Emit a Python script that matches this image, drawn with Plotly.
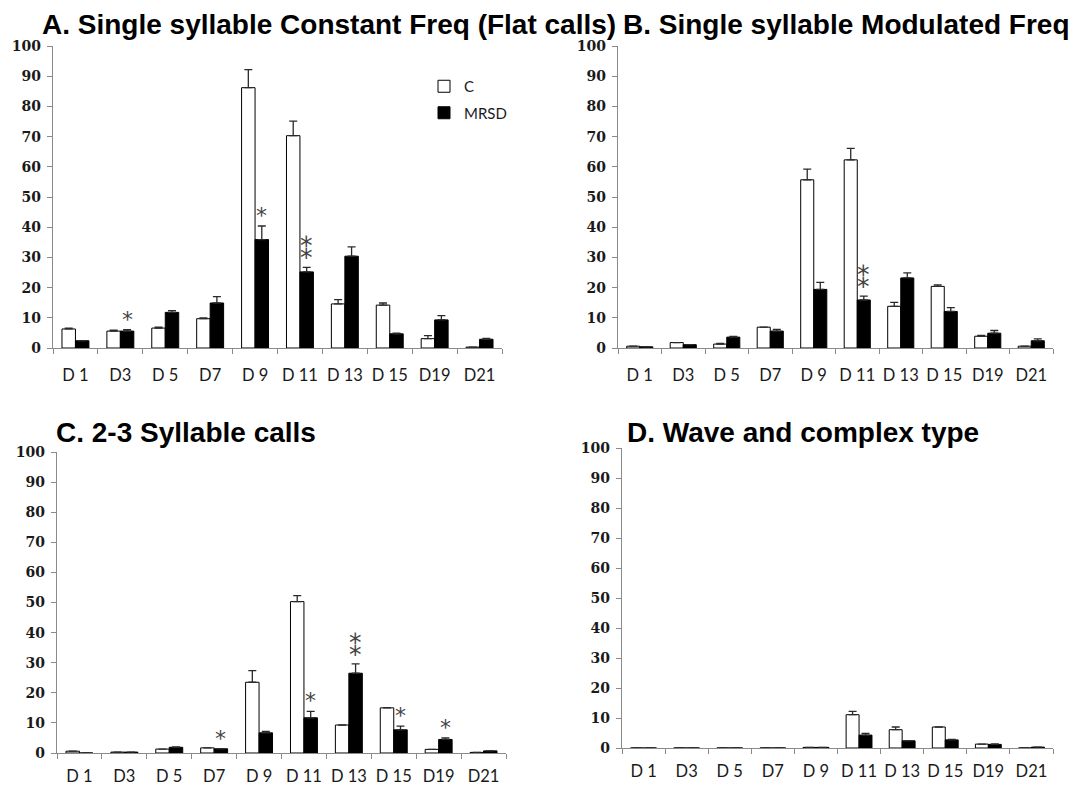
import numpy as np
import plotly.graph_objects as go

# Postnatal days on the x axis
days = ["D 1", "D3", "D 5", "D7", "D 9", "D 11", "D 13", "D 15", "D19", "D21"]

# A. Single syllable constant frequency (flat) calls
a_ctrl = [6.3, 5.6, 6.6, 9.7, 86.2, 70.3, 14.6, 14.2, 3.1, 0.3]
a_ctrl_err = [0.3, 0.3, 0.3, 0.3, 6.0, 4.8, 1.4, 0.7, 1.0, 0.0]
a_mrsd = [2.4, 5.6, 11.8, 14.9, 35.9, 25.2, 30.4, 4.7, 9.3, 2.9]
a_mrsd_err = [0.0, 0.5, 0.6, 2.1, 4.5, 1.5, 3.1, 0.2, 1.4, 0.3]
a_sig = [0, 1, 0, 0, 1, 2, 0, 0, 0, 0]

# B. Single syllable modulated frequency calls
b_ctrl = [0.6, 1.8, 1.3, 6.9, 55.7, 62.3, 13.8, 20.4, 3.9, 0.6]
b_ctrl_err = [0.0, 0.0, 0.2, 0.0, 3.5, 3.8, 1.3, 0.5, 0.3, 0.0]
b_mrsd = [0.4, 1.1, 3.6, 5.6, 19.4, 15.9, 23.2, 12.1, 4.9, 2.4]
b_mrsd_err = [0.0, 0.0, 0.2, 0.6, 2.3, 1.3, 1.7, 1.3, 0.9, 0.6]
b_sig = [0, 0, 0, 0, 0, 2, 0, 0, 0, 0]

# C. 2-3 syllable calls
c_ctrl = [0.6, 0.3, 1.3, 1.7, 23.5, 50.3, 9.3, 15.0, 1.2, 0.2]
c_ctrl_err = [0.0, 0.0, 0.0, 0.0, 3.9, 2.0, 0.0, 0.1, 0.0, 0.0]
c_mrsd = [0.0, 0.3, 1.9, 1.4, 6.7, 11.7, 26.5, 7.7, 4.5, 0.7]
c_mrsd_err = [0.0, 0.0, 0.1, 0.0, 0.5, 2.1, 3.1, 1.2, 0.5, 0.0]
c_sig = [0, 0, 0, 1, 0, 1, 2, 1, 1, 0]

# D. Wave and complex type calls
d_ctrl = [0.0, 0.0, 0.0, 0.0, 0.2, 11.1, 6.1, 7.0, 1.3, 0.0]
d_ctrl_err = [0.0, 0.0, 0.0, 0.0, 0.0, 1.1, 0.9, 0.0, 0.0, 0.0]
d_mrsd = [0.0, 0.0, 0.0, 0.0, 0.2, 4.3, 2.4, 2.7, 1.2, 0.3]
d_mrsd_err = [0.0, 0.0, 0.0, 0.0, 0.0, 0.6, 0.0, 0.2, 0.2, 0.0]
d_sig = [0, 0, 0, 0, 0, 0, 0, 0, 0, 0]

titles = [
    "A. Single syllable Constant Freq (Flat calls)",
    "B. Single syllable Modulated Freq",
    "C. 2-3 Syllable calls",
    "D. Wave and complex type",
]

W, H = 1073, 789
panels = [
    # (ctrl, ctrl_err, mrsd, mrsd_err, sig, x0, x1, ytop, ybottom, title_x, title_y, label gap)
    (a_ctrl, a_ctrl_err, a_mrsd, a_mrsd_err, a_sig, 53, 502, 46, 348, 40, 24, 12),
    (b_ctrl, b_ctrl_err, b_mrsd, b_mrsd_err, b_sig, 618, 1053, 46, 348, 621, 24, 12),
    (c_ctrl, c_ctrl_err, c_mrsd, c_mrsd_err, c_sig, 57, 506, 452, 753, 54, 432, 8),
    (d_ctrl, d_ctrl_err, d_mrsd, d_mrsd_err, d_sig, 622, 1053, 448, 748, 625, 432, 8),
]

BARGAP = 0.4
AXIS_GREY = "#8a8a8a"
TEXT = "#1a1a1a"
# one asterisk for a single mark, two stacked asterisks for a double mark
STAR_TEXT = {1: "*", 2: "\u2051"}


def err_array(vals, errs):
    # no error bar on empty bars
    return np.array([e if v > 0 else np.nan for v, e in zip(vals, errs)], dtype=float)


fig = go.Figure()
annotations = []

for k, (ctrl, ctrl_err, mrsd, mrsd_err, sig, x0, x1, yt, yb, tx, ty, gap) in enumerate(panels):
    sfx = "" if k == 0 else str(k + 1)
    xa, ya = "x" + sfx, "y" + sfx

    for name, vals, errs, fill in (("C", ctrl, ctrl_err, "white"),
                                   ("MRSD", mrsd, mrsd_err, "black")):
        fig.add_trace(go.Bar(
            x=days, y=vals, name=name, xaxis=xa, yaxis=ya,
            legendgroup=name, showlegend=(k == 0),
            marker=dict(color=fill, line=dict(color="black", width=1)),
            error_y=dict(type="data", array=err_array(vals, errs),
                         arrayminus=np.zeros(len(vals)), symmetric=False,
                         color="#2a2a2a", thickness=1.3, width=4),
        ))

    fig.layout["xaxis" + sfx] = dict(
        domain=[x0 / W, x1 / W], anchor=ya, type="category",
        showline=True, linecolor=AXIS_GREY, linewidth=1.3,
        ticks="outside", tickson="boundaries", ticklen=5, tickcolor=AXIS_GREY,
        tickwidth=1, ticklabelstandoff=gap, tickangle=0,
        tickfont=dict(family="Lato", size=16.5, color=TEXT),
        showgrid=False, zeroline=False,
    )
    fig.layout["yaxis" + sfx] = dict(
        domain=[1 - yb / H, 1 - yt / H], anchor=xa, range=[0, 100], dtick=10,
        showline=True, linecolor=AXIS_GREY, linewidth=1.3,
        ticks="outside", ticklen=5, tickcolor=AXIS_GREY, tickwidth=1,
        ticklabelstandoff=3,
        tickfont=dict(family="DejaVu Serif", size=14, color=TEXT, weight="bold"),
        showgrid=False, zeroline=False,
    )

    # panel title
    annotations.append(dict(
        text="<b>%s</b>" % titles[k], xref="paper", yref="paper",
        x=tx / W, y=1 - ty / H, xanchor="left", yanchor="middle", showarrow=False,
        font=dict(family="Liberation Sans", size=28, color="black"),
    ))

    # significance asterisks above the MRSD bars
    off = (1 - BARGAP) / 4
    for i, n in enumerate(sig):
        if n == 0:
            continue
        top = mrsd[i] + mrsd_err[i]
        double = n == 2
        annotations.append(dict(
            text=STAR_TEXT[n], xref=xa, yref=ya, x=i + off, y=top,
            xanchor="center", yanchor="bottom", showarrow=False,
            yshift=0 if double else -4,
            font=dict(family="DejaVu Sans", size=25 if double else 22,
                      color="#444444"),
        ))

fig.update_layout(
    width=W, height=H, template="none",
    margin=dict(l=0, r=0, t=0, b=0),
    paper_bgcolor="white", plot_bgcolor="white",
    barmode="group", bargap=BARGAP, bargroupgap=0,
    showlegend=True,
    legend=dict(x=424 / W, y=1 - 70 / H, xanchor="left", yanchor="top",
                bgcolor="rgba(0,0,0,0)", tracegroupgap=4, traceorder="grouped",
                font=dict(family="Lato", size=15, color=TEXT)),
    annotations=annotations,
)

fig.write_html("out.html")
